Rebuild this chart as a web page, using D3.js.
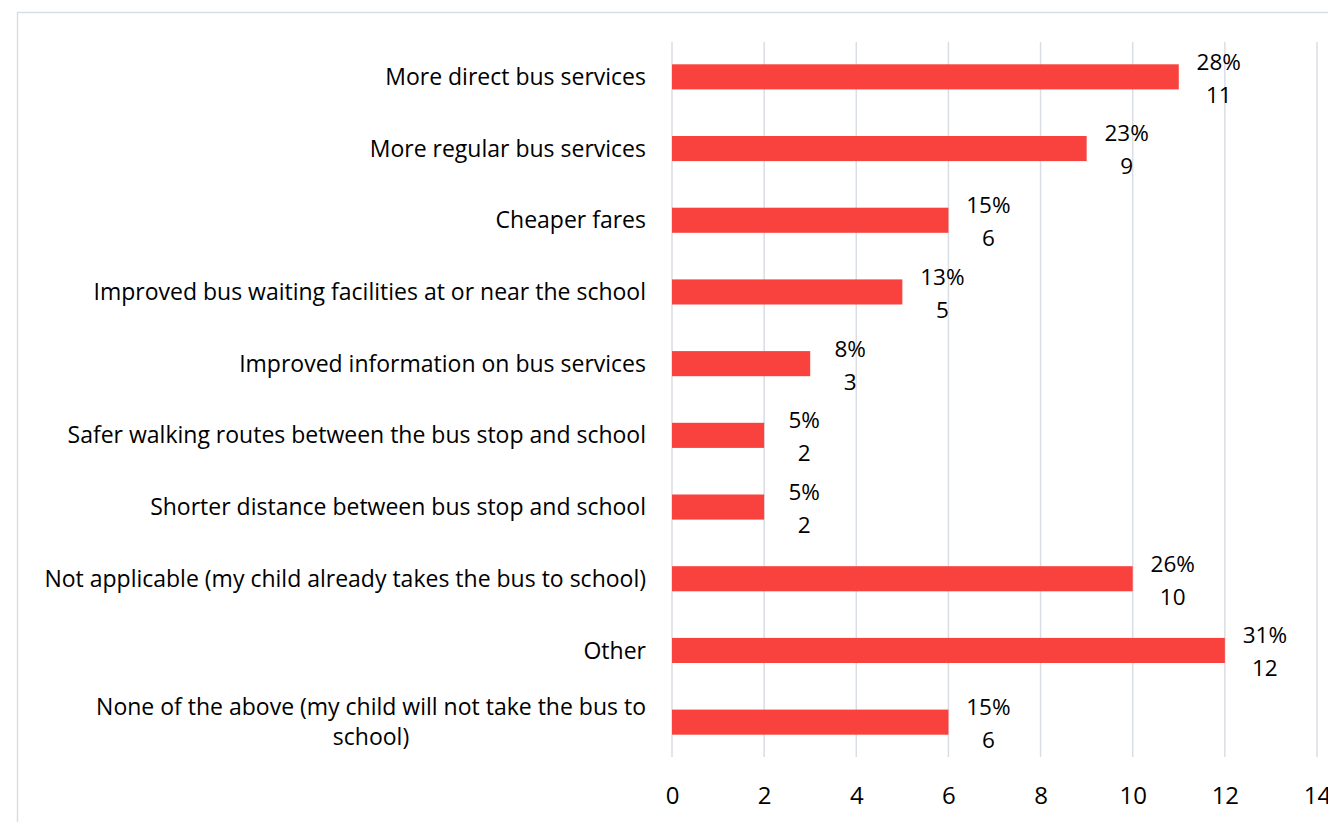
<!DOCTYPE html>
<html>
<head>
<meta charset="utf-8">
<script src="https://cdn.jsdelivr.net/npm/d3@7"></script>
<style>
  body { margin: 0; background: #fff; }
  svg text { font-family: "Open Sans", sans-serif; fill: #000; }
</style>
</head>
<body>
<div id="chart"></div>
<script>
// chart data
var categories = [
  "More direct bus services",
  "More regular bus services",
  "Cheaper fares",
  "Improved bus waiting facilities at or near the school",
  "Improved information on bus services",
  "Safer walking routes between the bus stop and school",
  "Shorter distance between bus stop and school",
  "Not applicable (my child already takes the bus to school)",
  "Other",
  "None of the above (my child will not take the bus to school)"
];
var counts = [11, 9, 6, 5, 3, 2, 2, 10, 12, 6];
var percents = ["28%", "23%", "15%", "13%", "8%", "5%", "5%", "26%", "31%", "15%"];
var xTicks = [0, 2, 4, 6, 8, 10, 12, 14];

var width = 1328, height = 822;
var svg = d3.select("#chart").append("svg").attr("width", width).attr("height", height);

// outer chart border (cut off on right and bottom)
svg.append("rect").attr("x", 17.5).attr("y", 12.5).attr("width", 1400).attr("height", 900)
  .attr("fill", "none").attr("stroke", "#d9dee4").attr("stroke-width", 1.5);

var x = d3.scaleLinear().domain([0, 14]).range([672, 1317]);
var y = d3.scaleBand().domain(categories).range([41, 758]).paddingInner(0.65).paddingOuter(0.325);

// gridlines
svg.append("g").selectAll("line.grid").data(xTicks).enter().append("line").attr("class", "grid")
  .attr("x1", function(d) { return x(d); }).attr("x2", function(d) { return x(d); })
  .attr("y1", 42).attr("y2", 757)
  .attr("stroke", "#d9dee4").attr("stroke-width", 1.5);

// bars
svg.append("g").selectAll("rect.bar").data(categories).enter().append("rect").attr("class", "bar")
  .attr("x", x(0))
  .attr("y", function(c) { return y(c); })
  .attr("width", function(c, i) { return x(counts[i]) - x(0); })
  .attr("height", y.bandwidth())
  .attr("fill", "#f9423d");

// category labels (wrap long ones)
var maxLabel = 620;
var catG = svg.append("g").selectAll("text.cat").data(categories).enter().append("text").attr("class", "cat")
  .attr("text-anchor", "middle")
  .style("font-size", "23px");
catG.each(function(c) {
  var t = d3.select(this);
  var cy = y(c) + y.bandwidth() / 2;
  t.text(c);
  var w = this.getComputedTextLength();
  if (w <= maxLabel) {
    t.attr("text-anchor", "end").attr("x", 646).attr("y", cy).attr("dy", "0.35em");
    return;
  }
  // split into two lines
  t.text(null);
  var words = c.split(" "), line1 = [], rest = [];
  var probe = t.append("tspan");
  for (var k = 0; k < words.length; k++) {
    probe.text(line1.concat(words[k]).join(" "));
    if (probe.node().getComputedTextLength() > 585) { rest = words.slice(k); break; }
    line1.push(words[k]);
  }
  probe.remove();
  probe = t.append("tspan").text(line1.join(" "));
  var w1 = probe.node().getComputedTextLength();
  probe.remove();
  var centre = 646 - w1 / 2;
  t.attr("x", centre).attr("y", cy);
  t.append("tspan").attr("x", centre).attr("dy", "-0.3em").text(line1.join(" "));
  t.append("tspan").attr("x", centre).attr("dy", "1.3em").text(rest.join(" "));
});

// data labels: percent above, count below
var lbl = svg.append("g").selectAll("text.val").data(categories).enter().append("text").attr("class", "val")
  .attr("text-anchor", "middle").style("font-size", "22.5px");
lbl.append("tspan")
  .attr("x", function(c, i) { return x(counts[i]) + 40; })
  .attr("y", function(c) { return y(c) + y.bandwidth() / 2 - 15; })
  .attr("dy", "0.35em")
  .text(function(c, i) { return percents[i]; });
lbl.append("tspan")
  .attr("x", function(c, i) { return x(counts[i]) + 40; })
  .attr("y", function(c) { return y(c) + y.bandwidth() / 2 + 18; })
  .attr("dy", "0.35em")
  .text(function(c, i) { return counts[i]; });

// x axis tick labels
var axis = d3.axisBottom(x).tickValues(xTicks).tickSize(0).tickPadding(0);
var ax = svg.append("g").attr("transform", "translate(0,787)").call(axis);
ax.select(".domain").remove();
ax.selectAll("text").style("font-size", "24px").style("font-family", "'Open Sans', sans-serif").attr("fill", "#000");
</script>
</body>
</html>
